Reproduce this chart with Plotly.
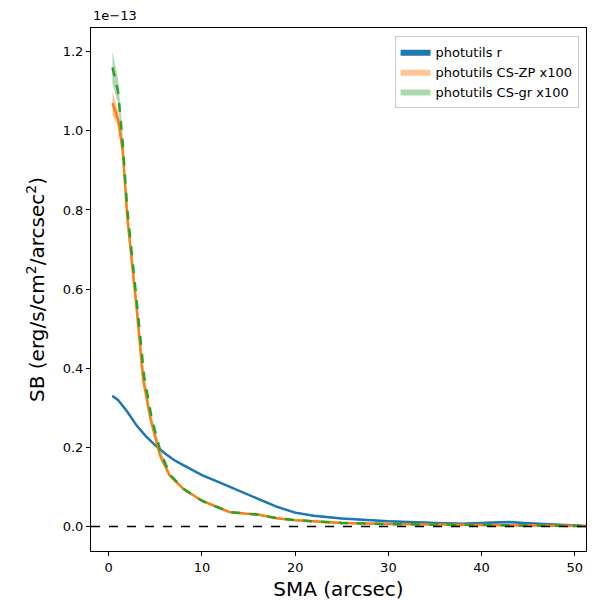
import plotly.graph_objects as go

# SMA (arcsec) and surface brightness in units of 1e-13 erg/s/cm^2/arcsec^2
sma_r = [0.4, 1, 2, 3, 4, 5, 6, 7, 8, 10, 12, 14, 16, 18, 20, 22, 25, 30, 35, 38, 40, 43, 45, 48, 50, 51.5]
sb_r = [0.33, 0.32, 0.29, 0.255, 0.228, 0.205, 0.185, 0.168, 0.155, 0.13, 0.11, 0.09, 0.07, 0.05, 0.035,
        0.027, 0.02, 0.013, 0.009, 0.007, 0.009, 0.011, 0.008, 0.004, 0.002, 0.001]
sb_r_err = [0.003, 0.003, 0.003, 0.003, 0.002, 0.002, 0.002, 0.002, 0.002, 0.002, 0.002, 0.002, 0.002,
            0.002, 0.002, 0.002, 0.002, 0.002, 0.002, 0.002, 0.002, 0.002, 0.002, 0.002, 0.002, 0.002]

sma_cs = [0.4, 1, 1.5, 2, 3, 3.7, 4.5, 5.5, 6.5, 8, 10, 12, 13, 16, 18, 20, 25, 30, 40, 50, 51.5]
sb_zp = [1.07, 1.03, 0.95, 0.78, 0.55, 0.37, 0.27, 0.18, 0.13, 0.095, 0.065, 0.045, 0.036, 0.03, 0.021,
         0.016, 0.009, 0.006, 0.003, 0.001, 0.001]
sb_zp_err = [0.03, 0.02, 0.02, 0.015, 0.01, 0.008, 0.006, 0.005, 0.004, 0.003, 0.003, 0.002, 0.002, 0.002,
             0.002, 0.002, 0.002, 0.002, 0.002, 0.002, 0.002]
sma_gr = [0.4, 1, 1.5, 2, 3, 3.8, 4.6, 5.6, 6.6, 8, 10, 12, 13, 16, 18, 20, 25, 30, 40, 50, 51.5]
sb_gr = [1.16, 1.1, 0.97, 0.8, 0.57, 0.38, 0.275, 0.185, 0.13, 0.095, 0.065, 0.045, 0.036, 0.03, 0.021,
         0.016, 0.009, 0.006, 0.003, 0.001, 0.001]
sb_gr_err = [0.04, 0.03, 0.02, 0.015, 0.01, 0.008, 0.006, 0.005, 0.004, 0.003, 0.003, 0.002, 0.002, 0.002,
             0.002, 0.002, 0.002, 0.002, 0.002, 0.002, 0.002]


def band(x, y, e, color, name):
    up = [a + b for a, b in zip(y, e)]
    lo = [a - b for a, b in zip(y, e)]
    return go.Scatter(x=x + x[::-1], y=up + lo[::-1], fill='toself', fillcolor=color,
                      line=dict(width=0), mode='lines', name=name, hoverinfo='skip')


fig = go.Figure()
fig.add_trace(band(sma_r, sb_r, sb_r_err, '#1f77b4', 'photutils r'))
fig.add_trace(band(sma_cs, sb_zp, sb_zp_err, 'rgba(255,127,14,0.45)', 'photutils CS-ZP x100'))
fig.add_trace(band(sma_gr, sb_gr, sb_gr_err, 'rgba(44,160,44,0.4)', 'photutils CS-gr x100'))
fig.add_trace(go.Scatter(x=sma_r, y=sb_r, mode='lines', line=dict(color='#1f77b4', width=2.5), showlegend=False))
fig.add_trace(go.Scatter(x=sma_cs, y=sb_zp, mode='lines', line=dict(color='#ff7f0e', width=2.5), showlegend=False))
fig.add_trace(go.Scatter(x=sma_gr, y=sb_gr, mode='lines', line=dict(color='#2ca02c', width=2.5, dash='dash'),
                         showlegend=False))
fig.add_hline(y=0, line=dict(color='black', width=1.5, dash='dash'))

axis_common = dict(showline=True, linecolor='black', linewidth=1, mirror=True, showgrid=False, zeroline=False,
                   ticks='outside', ticklen=4, tickcolor='black', tickfont=dict(size=13, color='black'))
fig.update_xaxes(range=[-1.9, 51.2], tickvals=[0, 10, 20, 30, 40, 50],
                 title=dict(text='SMA (arcsec)', font=dict(size=20, color='black'), standoff=8), **axis_common)
fig.update_yaxes(range=[-0.062, 1.26], tickvals=[0, 0.2, 0.4, 0.6, 0.8, 1.0, 1.2], tickformat='.1f',
                 title=dict(text='SB (erg/s/cm<sup>2</sup>/arcsec<sup>2</sup>)', font=dict(size=20, color='black'),
                            standoff=12), **axis_common)
fig.add_annotation(text='1e\u221213', xref='paper', yref='paper', x=0, y=1.005, xanchor='left', yanchor='bottom',
                   showarrow=False, font=dict(size=13, color='black'))
fig.update_layout(width=600, height=600, margin=dict(l=83, r=22, t=20, b=57, autoexpand=False),
                  plot_bgcolor='white', paper_bgcolor='white',
                  font=dict(family='DejaVu Sans', color='black'),
                  legend=dict(x=0.985, y=0.985, xanchor='right', yanchor='top', bordercolor='#cccccc', borderwidth=1,
                              font=dict(size=13), bgcolor='rgba(255,255,255,0.8)'))
fig.write_html("out.html")
